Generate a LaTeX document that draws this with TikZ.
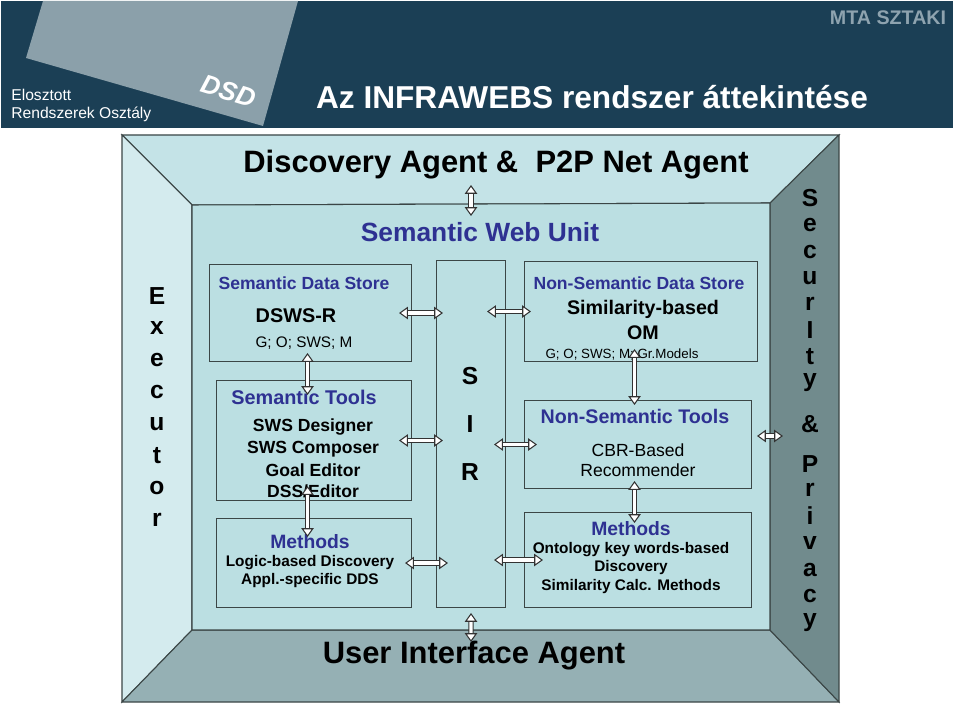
\documentclass[tikz,border=0pt]{standalone}
\usepackage{fontspec}
\setmainfont{Liberation Sans}
\usetikzlibrary{arrows.meta,positioning}

\definecolor{hdrblue}{HTML}{1B3F55}
\definecolor{hdrgray}{HTML}{8BA0AA}
\definecolor{sztakigray}{HTML}{8EA3AF}
\definecolor{unitblue}{HTML}{2E3192}
\definecolor{topband}{HTML}{C4E3E7}
\definecolor{leftband}{HTML}{D4EBEE}
\definecolor{innerfill}{HTML}{BBDFE2}
\definecolor{bottomband}{HTML}{95B0B4}
\definecolor{rightband}{HTML}{718B8D}
\definecolor{edgegray}{HTML}{3B4646}

\tikzset{
  unitbox/.style={draw=edgegray, line width=0.6pt, fill=innerfill, inner sep=0pt, anchor=north west},
  boxhead/.style={font=\bfseries\fontsize{#1}{#1}\selectfont, text=unitblue, inner sep=0pt},
  boldtext/.style={font=\bfseries\fontsize{#1}{#1}\selectfont, inner sep=0pt},
  plaintext/.style={font=\fontsize{#1}{#1}\selectfont, inner sep=0pt},
  sidechar/.style={font=\bfseries\fontsize{14}{14}\selectfont, inner sep=0pt},
  dblarrow/.style={draw=black!80, line width=0.6pt, double=white, double distance=1.9pt,
    {Triangle[width=7pt,length=5pt,fill=white,line width=0.6pt]}-{Triangle[width=7pt,length=5pt,fill=white,line width=0.6pt]}},
}

\begin{document}
\begin{tikzpicture}[x=0.02cm, y=-0.02cm]
  \useasboundingbox[fill=white] (0,0) rectangle (960,705);
  % header band
  \fill[hdrblue] (1,1) rectangle (953,128);
  \fill[hdrgray] (43,1) -- (298,1) -- (263,126) -- (26,58) -- cycle;
  \node[plaintext=8.9, text=white, anchor=west] (elosztott) at (11,95) {Elosztott};
  \node[plaintext=8.9, text=white, anchor=west] (rendszerek) at (11,114) {Rendszerek Osztály};
  \node[text=white, font=\bfseries\itshape\fontsize{15}{15}\selectfont, inner sep=0pt, rotate=-17] (dsd) at (229,91) {DSD};
  \node[boldtext=18, text=white] (title) at (592,97) {Az INFRAWEBS rendszer áttekintése};
  \node[boldtext=11.2, text=sztakigray] (sztaki) at (888,18) {MTA SZTAKI};

  % frame
  \coordinate (o1) at (122,135);
  \coordinate (o2) at (839,135);
  \coordinate (o3) at (839,702);
  \coordinate (o4) at (122,702);
  \coordinate (i1) at (192,205);
  \coordinate (i2) at (770,203);
  \coordinate (i3) at (770,630);
  \coordinate (i4) at (192,630);
  \filldraw[fill=topband, draw=edgegray, line width=0.6pt] (o1) -- (o2) -- (i2) -- (i1) -- cycle;
  \filldraw[fill=leftband, draw=edgegray, line width=0.6pt] (o1) -- (i1) -- (i4) -- (o4) -- cycle;
  \filldraw[fill=bottomband, draw=edgegray, line width=0.6pt] (o4) -- (i4) -- (i3) -- (o3) -- cycle;
  \filldraw[fill=rightband, draw=edgegray, line width=0.6pt] (o2) -- (i2) -- (i3) -- (o3) -- cycle;
  \filldraw[fill=innerfill, draw=edgegray, line width=0.6pt] (i1) -- (i2) -- (i3) -- (i4) -- cycle;

  \node[boldtext=17.6] (agents) at (496,165) {Discovery Agent \&\ \ P2P Net Agent};
  \node[boldtext=15, text=unitblue] (swu) at (480,232) {Semantic Web Unit};
  \node[boldtext=17.6] (uia) at (474,656) {User Interface Agent};

  \foreach \l [count=\i] in {E,x,e,c,u,t,o,r}
    \node[sidechar] (exec\i) at (157,{264+32*\i}) {\l};
  \foreach \l/\y [count=\i] in {S/198,e/225,c/252,u/278,r/304,I/330,t/357,y/383,\&/424,P/464,r/490,i/516,v/543,a/570,c/596,y/623}
    \node[sidechar] (secu\i) at (810,\y) {\l};

  % boxes
  \node[unitbox, minimum width=4.04cm, minimum height=1.94cm] (sds) at (209,264) {};
  \node[unitbox, minimum width=3.90cm, minimum height=2.40cm] (st) at (216,380) {};
  \node[unitbox, minimum width=3.90cm, minimum height=1.78cm] (ml) at (216,518) {};
  \node[unitbox, minimum width=1.38cm, minimum height=6.94cm] (sir) at (436,260) {};
  \node[unitbox, minimum width=4.66cm, minimum height=2.00cm] (nsds) at (524,261) {};
  \node[unitbox, minimum width=4.54cm, minimum height=1.76cm] (nst) at (524,400) {};
  \node[unitbox, minimum width=4.54cm, minimum height=1.90cm] (mr) at (524,512) {};

  \node[sidechar] (sirs) at (470,376) {S};
  \node[sidechar] (siri) at (470,424) {I};
  \node[sidechar] (sirr) at (470,472) {R};

  % semantic side
  \node[boxhead=10] (sdshead) at (304,283) {Semantic Data Store};
  \node[boldtext=11.3] (dswsr) at (296,316) {DSWS-R};
  \node[plaintext=8.7] (sdsdata) at (304,343) {G; O; SWS; M};
  \node[boxhead=11.3] (sthead) at (304,397) {Semantic Tools};
  \node[boldtext=10] (st1) at (313,427) {SWS Designer};
  \node[boldtext=10] (st2) at (313,449) {SWS Composer};
  \node[boldtext=10] (st3) at (313,470) {Goal Editor};
  \node[boldtext=10] (st4) at (313,491) {DSS/Editor};
  \node[boxhead=11] (mlhead) at (310,542) {Methods};
  \node[boldtext=8.75] (ml1) at (310,563) {Logic-based Discovery};
  \node[boldtext=8.75] (ml2) at (310,581) {Appl.-specific DDS};

  % non-semantic side
  \node[boxhead=10] (nsdshead) at (639,283) {Non-Semantic Data Store};
  \node[boldtext=11.2] (nsds1) at (643,309) {Similarity-based};
  \node[boldtext=11.2] (nsds2) at (643,333) {OM};
  \node[plaintext=7.6] (nsdsdata) at (622,355) {G; O; SWS; M; Gr.Models};
  \node[boxhead=11.2] (nsthead) at (635,416) {Non-Semantic Tools};
  \node[plaintext=10] (nst1) at (638,450) {CBR-Based};
  \node[plaintext=10] (nst2) at (638,470) {Recommender};
  \node[boxhead=11] (mrhead) at (631,529) {Methods};
  \node[boldtext=8.75] (mr1) at (631,550) {Ontology key words-based};
  \node[boldtext=8.75] (mr2) at (631,568) {Discovery};
  \node[boldtext=8.75] (mr3) at (631,587) {Similarity Calc. Methods};

  % arrows
  \coordinate (agentsfoot) at (471,185);
  \coordinate (unittop) at (471,216);
  \coordinate (uiatop) at (471,642);
  \coordinate (innerright) at (757,436);
  \coordinate (secleft) at (783,436);
  \draw[dblarrow] (agentsfoot) -- (unittop);
  \draw[dblarrow] ([xshift=-0.26cm]sds.east) -- ([xshift=0.14cm]sds.east -| sir.west);
  \draw[dblarrow] ([xshift=-0.38cm]sir.east |- nsds.west) -- ([xshift=0.14cm]nsds.west);
  \draw[dblarrow] ([xshift=-0.26cm]st.east) -- ([xshift=0.14cm]st.east -| sir.west);
  \draw[dblarrow] ([xshift=-0.24cm]sir.east |- nst.west) -- ([xshift=0.26cm]nst.west);
  \draw[dblarrow] ([xshift=-0.14cm]ml.east) -- ([xshift=0.24cm]ml.east -| sir.west);
  \draw[dblarrow] ([xshift=-0.24cm]sir.east |- mr.west) -- ([xshift=0.38cm]mr.west);
  \draw[dblarrow] ([xshift=-0.06cm,yshift=0.18cm]sds.south) -- ([xshift=-0.06cm,yshift=-0.3cm]sds.south |- st.north);
  \draw[dblarrow] ([xshift=-0.13cm,yshift=0.3cm]st.south) -- ([xshift=-0.13cm,yshift=-0.38cm]st.south |- ml.north);
  \draw[dblarrow] ([xshift=-0.13cm,yshift=0.26cm]nsds.south) -- ([xshift=-0.13cm,yshift=-0.1cm]nsds.south |- nst.north);
  \draw[dblarrow] ([xshift=-0.07cm,yshift=0.16cm]nst.south) -- ([xshift=-0.07cm,yshift=-0.22cm]nst.south |- mr.north);
  \draw[dblarrow] ([yshift=-0.1cm]sir.south) -- (uiatop);
  \draw[dblarrow] (innerright) -- (secleft);
\end{tikzpicture}
\end{document}
